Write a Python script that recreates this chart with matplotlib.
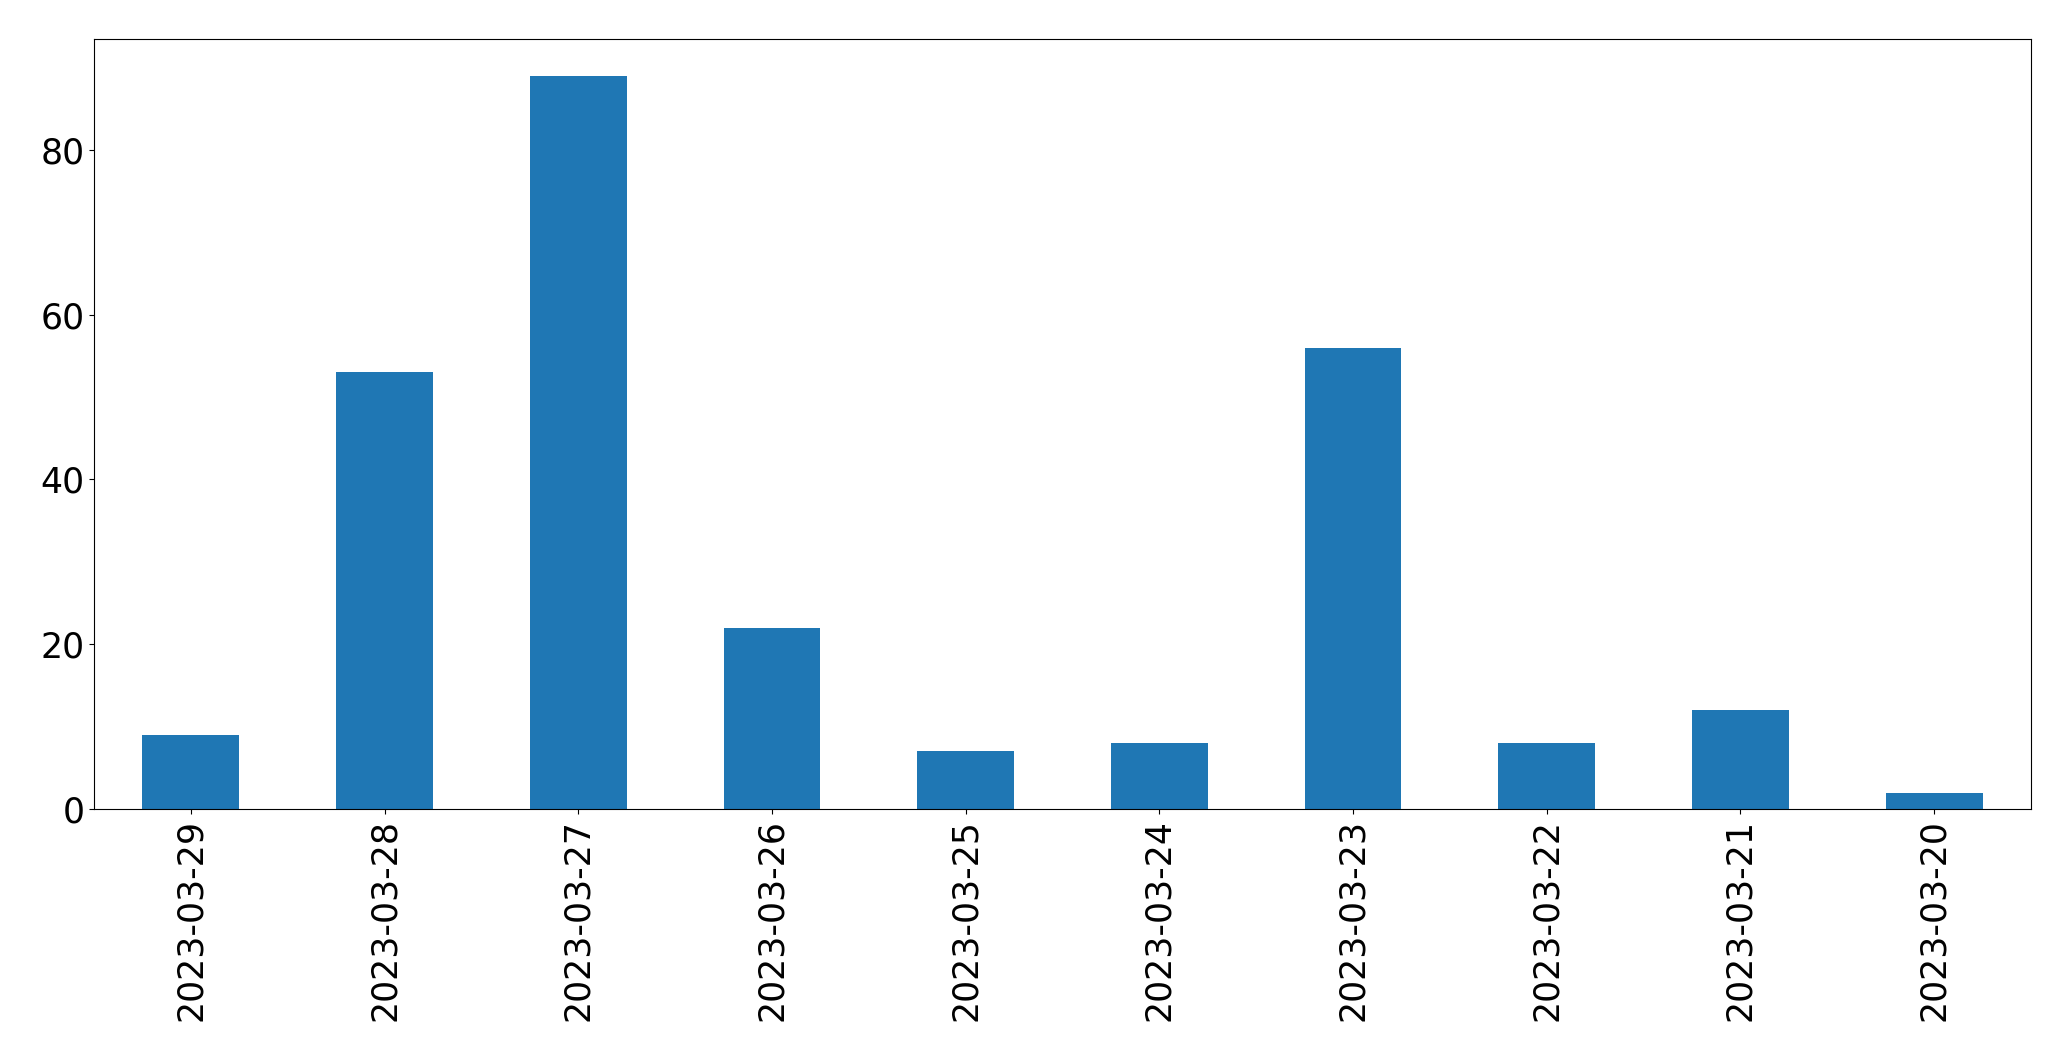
import matplotlib
matplotlib.use("Agg")
import matplotlib.pyplot as plt
import pandas as pd

dates = ["2023-03-29", "2023-03-28", "2023-03-27", "2023-03-26", "2023-03-25",
         "2023-03-24", "2023-03-23", "2023-03-22", "2023-03-21", "2023-03-20"]
counts = [9, 53, 89, 22, 7, 8, 56, 8, 12, 2]

s = pd.Series(counts, index=dates)

fig = plt.figure(figsize=(20.71, 10.61), dpi=100)
ax = fig.add_axes([94 / 2071, 1 - 809 / 1061, (2031 - 94) / 2071, (809 - 39) / 1061])
s.plot(kind="bar", ax=ax, color="#1f77b4", fontsize=25)
ax.set_xlabel("")

fig.savefig("out.png", dpi=100)
